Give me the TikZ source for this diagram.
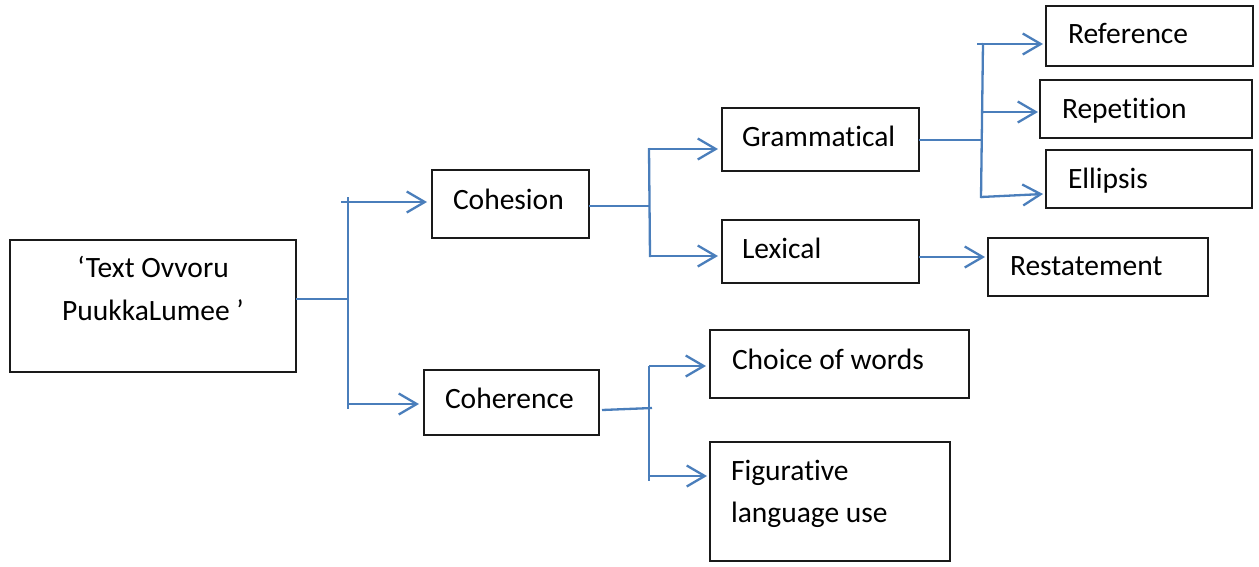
\documentclass[tikz,border=0pt]{standalone}
\usepackage{fontspec}
\setmainfont{Carlito}[Ligatures=NoCommon]
\usetikzlibrary{arrows.meta}
\definecolor{linkblue}{HTML}{4A7EBB}
\definecolor{boxline}{HTML}{1A1A1A}
\tikzset{
  box/.style={draw=boxline, line width=1.4pt, rectangle, inner sep=0pt, outer sep=0pt, anchor=north west},
  txt/.style={inner sep=0pt, outer sep=0pt, anchor=base west, font=\fontsize{29.5}{42}\selectfont},
  link/.style={draw=linkblue, line width=2.3pt},
  arrowlink/.style={link, -{Straight Barb[length=18pt, width=21pt, line width=2.3pt]}}
}
\begin{document}
\begin{tikzpicture}[x=1pt, y=-1pt]
  \useasboundingbox (0,0) rectangle (1259,566);

  % boxes
  \node[box, minimum width=286pt, minimum height=132pt] (root) at (10,240) {};
  \node[box, minimum width=157pt, minimum height=68pt] (coh) at (432,170) {};
  \node[box, minimum width=175pt, minimum height=65pt] (cor) at (424,370) {};
  \node[box, minimum width=197pt, minimum height=63pt] (gram) at (722,108) {};
  \node[box, minimum width=197pt, minimum height=63pt] (lex) at (722,220) {};
  \node[box, minimum width=207pt, minimum height=60pt] (ref) at (1046,6) {};
  \node[box, minimum width=212pt, minimum height=58pt] (rep) at (1040,80) {};
  \node[box, minimum width=206pt, minimum height=58pt] (ell) at (1046,150) {};
  \node[box, minimum width=220pt, minimum height=58pt] (rest) at (988,238) {};
  \node[box, minimum width=259pt, minimum height=68pt] (choice) at (710,330) {};
  \node[box, minimum width=240pt, minimum height=119pt] (fig) at (710,442) {};

  % labels
  \node[txt, anchor=base] (rootA) at (153,277) {‘Text Ovvoru};
  \node[txt, anchor=base] (rootB) at (153,320) {PuukkaLumee ’};
  \node[txt] (cohT) at (453,209) {Cohesion};
  \node[txt] (corT) at (445,408) {Coherence};
  \node[txt] (gramT) at (742,146) {Grammatical};
  \node[txt] (lexT) at (742,258) {Lexical};
  \node[txt] (refT) at (1068,43) {Reference};
  \node[txt] (repT) at (1062,118) {Repetition};
  \node[txt] (ellT) at (1068,188) {Ellipsis};
  \node[txt] (restT) at (1010,275) {Restatement};
  \node[txt] (choiceT) at (732,369) {Choice of words};
  \node[txt] (figA) at (731,480) {Figurative};
  \node[txt] (figB) at (731,522) {language use};

  % junction points
  \coordinate (j1) at (348,299);
  \coordinate (j1t) at (348,197);
  \coordinate (j1b) at (348,409);
  \coordinate (j2) at (650,206);
  \coordinate (j2t) at (649,148);
  \coordinate (j2b) at (650,257);
  \coordinate (j3) at (652,408);
  \coordinate (j3t) at (649,366);
  \coordinate (j3b) at (649,481);
  \coordinate (j4) at (982,140);
  \coordinate (j4t) at (983,43);
  \coordinate (j4b) at (981,198);

  % root splits into cohesion and coherence
  \draw[link] (root.east |- j1) -- (j1);
  \draw[link] (j1t) -- (j1b);
  \draw[arrowlink] (341,202) -- (427,202);
  \draw[arrowlink] (348,404) -- (419,404);

  % cohesion splits into grammatical and lexical
  \draw[link] (coh.east |- j2) -- (j2);
  \draw[link] (j2t) -- (j2b);
  \draw[arrowlink] (648,149) -- (718,149);
  \draw[arrowlink] (650,256) -- (718,256);

  % coherence splits into its two aspects
  \draw[link] (602,410) -- (j3);
  \draw[link] (j3t) -- (j3b);
  \draw[arrowlink] (j3t) -- (706,366);
  \draw[arrowlink] (649,476) -- (707,476);

  % grammatical devices
  \draw[link] (gram.east |- j4) -- (j4);
  \draw[link] (j4t) -- (j4b);
  \draw[arrowlink] (977,44) -- (1043,44);
  \draw[arrowlink] (982,112) -- (1038,112);
  \draw[arrowlink] (981,197) -- (1043,194);

  % lexical device
  \draw[arrowlink] (lex.east |- 0,257) -- (985,257);
\end{tikzpicture}
\end{document}
